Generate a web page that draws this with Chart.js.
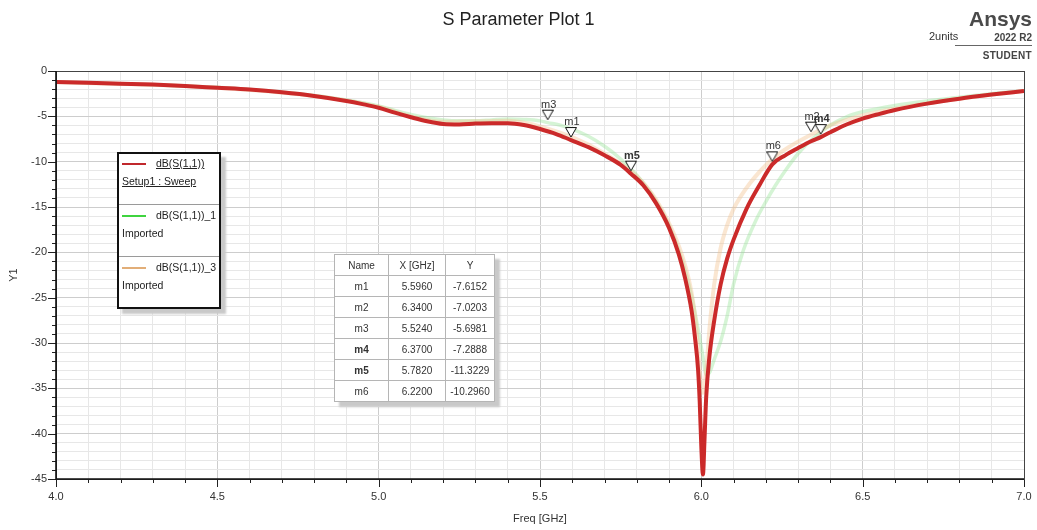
<!DOCTYPE html>
<html>
<head>
<meta charset="utf-8">
<title>S Parameter Plot 1</title>
<script src="https://cdn.jsdelivr.net/npm/chart.js@4.4.1/dist/chart.umd.min.js"></script>
<style>
  html, body { margin: 0; padding: 0; background: #fff; width: 1037px; height: 530px; overflow: hidden;
    font-family: "Liberation Sans", Arial, sans-serif; }
  #wrap { position: relative; width: 1037px; height: 530px; }
  #plot { position: absolute; left: 0; top: 0; }
  .title { position: absolute; left: 0; top: 9px; width: 1037px; text-align: center; font-size: 18px; color: #222; }
  .units { position: absolute; left: 929px; top: 30px; font-size: 11px; color: #333; }
  .brand { position: absolute; right: 5px; top: 8px; width: 90px; text-align: right; color: #4a4a4a; font-weight: bold; }
  .brand .name { font-size: 21px; line-height: 22px; }
  .brand .rel { font-size: 10px; line-height: 11px; margin-top: 2px; color: #444; }
  .brand .rule { height: 1px; background: #666; margin: 2px 0 4px 13px; }
  .brand .ed { font-size: 10px; line-height: 11px; color: #444; letter-spacing: 0.3px; }
  #legend { position: absolute; left: 117px; top: 152px; width: 104px; height: 157px; box-sizing: border-box;
    border: 2px solid #111; background: #fff; box-shadow: 5px 5px 2px #c9c9c9; font-size: 10.5px; color: #222; }
  #legend .sw { position: absolute; left: 3px; width: 24px; height: 2px; }
  #legend .lbl { position: absolute; left: 37px; line-height: 12px; white-space: nowrap; }
  #legend .sub { position: absolute; left: 3px; line-height: 12px; white-space: nowrap; }
  #legend .u { text-decoration: underline; }
  #legend .div { position: absolute; left: 0; right: 0; height: 1px; background: #9a9a9a; }
  #markers { position: absolute; left: 334px; top: 254px; border-collapse: collapse; background: #fff;
    box-shadow: 5px 5px 2px #c9c9c9; font-size: 10px; color: #333; border: 1px solid #333; }
  #markers td, #markers th { border: 1px solid #b5b5b5; height: 20px; padding: 0; text-align: center; font-weight: normal; }
  #markers .c0 { width: 53px; }
  #markers .c1 { width: 56px; }
  #markers .c2 { width: 48px; }
  #markers .b { font-weight: bold; }
</style>
</head>
<body>
<div id="wrap">
  <canvas id="plot" width="1037" height="530"></canvas>
  <div class="title">S Parameter Plot 1</div>
  <div class="units">2units</div>
  <div class="brand">
    <div class="name">Ansys</div>
    <div class="rel">2022 R2</div>
    <div class="rule"></div>
    <div class="ed">STUDENT</div>
  </div>
  <div id="legend"></div>
  <table id="markers"></table>
</div>
<script>
// Simulated sweep dB(S(1,1)) from Setup1
const sweepFreq = [4.0, 4.1, 4.2, 4.3, 4.4, 4.5, 4.6, 4.7, 4.8, 4.9, 4.95, 5.0, 5.05, 5.1, 5.15, 5.2, 5.25, 5.3,
  5.35, 5.4, 5.45, 5.5, 5.55, 5.596, 5.65, 5.7, 5.75, 5.782, 5.82, 5.86, 5.9, 5.93, 5.95, 5.97, 5.98, 5.99,
  5.995, 6.0, 6.005, 6.01, 6.015, 6.025, 6.04, 6.06, 6.08, 6.1, 6.14, 6.18, 6.22, 6.26, 6.3, 6.34, 6.37,
  6.4, 6.45, 6.5, 6.55, 6.6, 6.7, 6.8, 6.9, 7.0];
const sweepDb = [-1.2, -1.3, -1.4, -1.5, -1.65, -1.85, -2.05, -2.35, -2.75, -3.3, -3.65, -4.05, -4.6, -5.1,
  -5.55, -5.85, -5.9, -5.8, -5.75, -5.75, -5.95, -6.4, -6.95, -7.6152, -8.4, -9.3, -10.35, -11.3229, -12.6,
  -14.6, -17.3, -20.2, -22.9, -26.5, -29.3, -33, -36.5, -41.5, -44.5, -40.5, -36, -31.5, -27.5, -23.5,
  -20.7, -18.6, -15.2, -12.6, -10.296, -9.3, -8.5, -7.75, -7.2888, -6.75, -5.9, -5.25, -4.75, -4.3, -3.6,
  -3.05, -2.6, -2.2];

// Imported trace dB(S(1,1))_1
const imported1Freq = [4.0, 4.5, 4.8, 4.9, 5.0, 5.05, 5.1, 5.15, 5.2, 5.25, 5.3, 5.35, 5.4, 5.45, 5.5, 5.524,
  5.56, 5.6, 5.65, 5.7, 5.75, 5.8, 5.85, 5.9, 5.94, 5.97, 5.99, 6.005, 6.015, 6.025, 6.04, 6.06, 6.08, 6.1,
  6.13, 6.17, 6.2, 6.23, 6.26, 6.3, 6.35, 6.4, 6.45, 6.5, 6.6, 6.7, 6.8, 6.9, 7.0];
const imported1Db = [-1.2, -1.8, -2.7, -3.2, -3.85, -4.35, -4.8, -5.15, -5.4, -5.5, -5.5, -5.4, -5.3, -5.35,
  -5.5, -5.6981, -5.95, -6.4, -7.2, -8.3, -9.7, -11.5, -13.8, -17.0, -20.8, -24.8, -28.5, -31.5, -33.5,
  -33.3, -31.8, -29.8, -27.0, -23.5, -19.8, -16.4, -14.4, -12.6, -11.0, -9.1, -7.3, -5.95, -5.05, -4.5,
  -3.8, -3.3, -2.9, -2.5, -2.2];

// Imported trace dB(S(1,1))_3
const imported3Freq = [4.0, 4.5, 4.8, 4.9, 5.0, 5.1, 5.2, 5.3, 5.4, 5.45, 5.5, 5.6, 5.7, 5.8, 5.86, 5.9,
  5.94, 5.97, 5.985, 5.995, 6.005, 6.015, 6.025, 6.04, 6.06, 6.08, 6.1, 6.15, 6.22, 6.28, 6.34, 6.4, 6.5,
  6.6, 6.7, 6.8, 6.9, 7.0];
const imported3Db = [-1.2, -1.85, -2.75, -3.25, -3.95, -5.0, -5.6, -5.55, -5.5, -5.7, -6.1, -7.3, -9.1,
  -11.6, -14.2, -16.8, -20.3, -24.5, -28.5, -33, -35.5, -33, -28.5, -23.5, -19.5, -17, -15.2, -12.4, -9.7,
  -8.2, -7.0203, -6.0, -4.9, -4.15, -3.55, -3.05, -2.6, -2.2];

// Markers (name, X [GHz], Y)
const markerNames = ['m1', 'm2', 'm3', 'm4', 'm5', 'm6'];
const markerX = [5.5960, 6.3400, 5.5240, 6.3700, 5.7820, 6.2200];
const markerY = [-7.6152, -7.0203, -5.6981, -7.2888, -11.3229, -10.2960];

// Axis ranges and tick spacing
const xRange = [4.0, 7.0];
const yRange = [-45, 0];
const xMajorStep = 0.5;
const yMajorStep = 5;

// Trace names for the legend
const traceNames = ['dB(S(1,1))', 'dB(S(1,1))_1', 'dB(S(1,1))_3'];
const traceSources = ['Setup1 : Sweep', 'Imported', 'Imported'];

// ---- styling ----
const RED = '#cb2a2a';
const GREEN_LINE = 'rgba(150, 228, 150, 0.4)';
const ORANGE_LINE = 'rgba(244, 196, 146, 0.42)';
const legendSwatches = ['#c0282c', '#3fd43f', '#e2ae78'];
const boldMarkers = ['m4', 'm5'];
const FONT = '"Liberation Sans", Arial, sans-serif';

const pts = (xs, ys) => xs.map((x, i) => ({ x: x, y: ys[i] }));
const isMultiple = (v, step) => Math.abs(v / step - Math.round(v / step)) < 1e-6;

// inverted triangle marker, tip slightly above the marked point
function markerGlyph() {
  const c = document.createElement('canvas');
  c.width = 12; c.height = 28;
  const g = c.getContext('2d');
  g.beginPath();
  g.moveTo(0.5, 1.5); g.lineTo(11.5, 1.5); g.lineTo(6, 11); g.closePath();
  g.fillStyle = '#fff'; g.fill();
  g.strokeStyle = '#111'; g.lineWidth = 1; g.stroke();
  return c;
}

// legend box
(function buildLegend() {
  const el = document.getElementById('legend');
  const rowTop = [0, 52, 104];
  let html = '';
  traceNames.forEach((n, i) => {
    const t = rowTop[i];
    const u = i === 0 ? ' u' : '';
    html += `<div class="sw" style="top:${t + 9}px;background:${legendSwatches[i]}"></div>`;
    html += `<div class="lbl${u}" style="top:${t + 3}px">${n}</div>`;
    html += `<div class="sub${u}" style="top:${t + 21}px">${traceSources[i]}</div>`;
    if (i > 0) html += `<div class="div" style="top:${t - 2}px"></div>`;
  });
  el.innerHTML = html;
})();

// marker table
(function buildTable() {
  const el = document.getElementById('markers');
  let html = '<tr><th class="c0">Name</th><th class="c1">X [GHz]</th><th class="c2">Y</th></tr>';
  markerNames.forEach((n, i) => {
    const b = boldMarkers.includes(n) ? ' b' : '';
    html += `<tr><td class="c0${b}">${n}</td><td class="c1">${markerX[i].toFixed(4)}</td><td class="c2">${markerY[i].toFixed(4)}</td></tr>`;
  });
  el.innerHTML = html;
})();

// tick marks (minor short, major long) drawn outside the plot frame
const tickMarks = {
  id: 'tickMarks',
  afterDraw(chart) {
    const { ctx, chartArea: a } = chart;
    const xs = chart.scales.x, ys = chart.scales.y;
    ctx.save();
    ctx.strokeStyle = '#222';
    ctx.lineWidth = 1;
    ctx.beginPath();
    xs.ticks.forEach(t => {
      const px = Math.round(xs.getPixelForValue(t.value)) + 0.5;
      const len = isMultiple(t.value, xMajorStep) ? 8 : 4;
      ctx.moveTo(px, a.bottom); ctx.lineTo(px, a.bottom + len);
    });
    ys.ticks.forEach(t => {
      const py = Math.round(ys.getPixelForValue(t.value)) + 0.5;
      const len = isMultiple(t.value, yMajorStep) ? 8 : 4;
      ctx.moveTo(a.left - len, py); ctx.lineTo(a.left, py);
    });
    ctx.stroke();
    // plot frame
    ctx.strokeStyle = '#444';
    ctx.strokeRect(Math.round(a.left) + 0.5, Math.round(a.top) + 0.5, Math.round(a.right - a.left), Math.round(a.bottom - a.top));
    ctx.strokeStyle = '#111';
    ctx.lineWidth = 1.6;
    ctx.beginPath();
    ctx.moveTo(a.left, a.top); ctx.lineTo(a.left, a.bottom); ctx.lineTo(a.right, a.bottom);
    ctx.stroke();
    ctx.restore();
  }
};

// marker names above the triangles
const markerLabels = {
  id: 'markerLabels',
  afterDatasetsDraw(chart) {
    const meta = chart.getDatasetMeta(0);
    const { ctx } = chart;
    ctx.save();
    ctx.fillStyle = '#333';
    ctx.textAlign = 'center';
    ctx.textBaseline = 'alphabetic';
    meta.data.forEach((p, i) => {
      const n = markerNames[i];
      ctx.font = (boldMarkers.includes(n) ? 'bold ' : '') + '11px ' + FONT;
      ctx.fillText(n, p.x + 1, p.y - 15);
    });
    ctx.restore();
  }
};

const gridColor = (major) => (ctx) => {
  const v = ctx.tick ? ctx.tick.value : 0;
  return isMultiple(v, major) ? '#cdcdcd' : '#e7e7e7';
};

new Chart(document.getElementById('plot'), {
  type: 'line',
  data: {
    datasets: [
      {
        label: 'markers',
        data: pts(markerX, markerY),
        showLine: false,
        pointStyle: markerGlyph(),
        pointRadius: 6,
        order: 0
      },
      {
        label: traceNames[0],
        data: pts(sweepFreq, sweepDb),
        borderColor: RED,
        borderWidth: 4,
        pointRadius: 0,
        cubicInterpolationMode: 'monotone',
        order: 1
      },
      {
        label: traceNames[2],
        data: pts(imported3Freq, imported3Db),
        borderColor: ORANGE_LINE,
        borderWidth: 4,
        pointRadius: 0,
        cubicInterpolationMode: 'monotone',
        order: 2
      },
      {
        label: traceNames[1],
        data: pts(imported1Freq, imported1Db),
        borderColor: GREEN_LINE,
        borderWidth: 3.5,
        pointRadius: 0,
        cubicInterpolationMode: 'monotone',
        order: 3
      }
    ]
  },
  options: {
    responsive: false,
    animation: false,
    devicePixelRatio: 1,
    layout: { padding: { top: 71, right: 13, left: 0, bottom: 0 } },
    plugins: { legend: { display: false }, tooltip: { enabled: false } },
    scales: {
      x: {
        type: 'linear',
        min: xRange[0], max: xRange[1],
        afterFit: (s) => { s.height = 51; s.paddingLeft = 0; s.paddingRight = 0; },
        grid: { color: gridColor(xMajorStep), drawTicks: false, lineWidth: 1 },
        border: { display: false },
        ticks: {
          stepSize: 0.1, autoSkip: false, maxRotation: 0, padding: 11,
          color: '#333', font: { family: FONT, size: 11 },
          callback: (v) => isMultiple(v, xMajorStep) ? Number(v).toFixed(1) : ''
        },
        title: { display: true, text: 'Freq [GHz]', color: '#333', font: { family: FONT, size: 11 }, padding: { top: 0, bottom: 4 } }
      },
      y: {
        type: 'linear',
        min: yRange[0], max: yRange[1],
        afterFit: (s) => { s.width = 56; s.paddingTop = 0; s.paddingBottom = 0; },
        grid: { color: gridColor(yMajorStep), drawTicks: false, lineWidth: 1 },
        border: { display: false },
        ticks: {
          stepSize: 1, autoSkip: false, padding: 9,
          color: '#333', font: { family: FONT, size: 11 },
          callback: (v) => isMultiple(v, yMajorStep) ? String(Math.round(v)) : ''
        },
        title: { display: true, text: 'Y1', color: '#333', font: { family: FONT, size: 11 }, padding: { top: 7, bottom: 0 } }
      }
    }
  },
  plugins: [tickMarks, markerLabels]
});
</script>
</body>
</html>
